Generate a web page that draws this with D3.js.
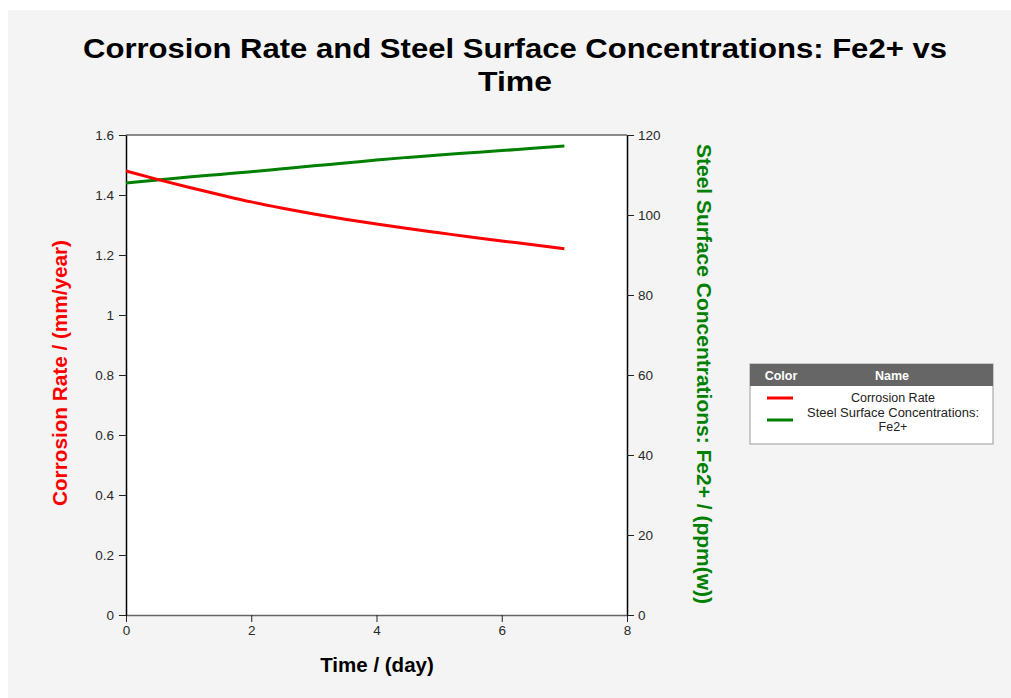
<!DOCTYPE html>
<html>
<head>
<meta charset="utf-8">
<script src="https://cdnjs.cloudflare.com/ajax/libs/d3/7.8.5/d3.min.js"></script>
<style>
  body { margin: 0; background: #fff; }
  text { font-family: "Liberation Sans", Arial, sans-serif; }
</style>
</head>
<body>
<div id="chart"></div>
<script>
var days = [0, 0.5, 1, 1.5, 2, 2.5, 3, 3.5, 4, 4.5, 5, 5.5, 6, 6.5, 7];
var corrosionRate = [1.48, 1.452, 1.426, 1.401, 1.377, 1.356, 1.337, 1.319, 1.303, 1.288, 1.274, 1.26, 1.247, 1.234, 1.221];
var fe2 = [108.0, 108.75, 109.5, 110.15, 110.8, 111.55, 112.3, 113.0, 113.75, 114.4, 115.0, 115.55, 116.1, 116.7, 117.25];
var xTicks = [0, 2, 4, 6, 8];
var leftTicks = [0, 0.2, 0.4, 0.6, 0.8, 1, 1.2, 1.4, 1.6];
var rightTicks = [0, 20, 40, 60, 80, 100, 120];

var width = 1011, height = 698;
var svg = d3.select("#chart").append("svg")
    .attr("width", width).attr("height", height);

// gray panel
svg.append("rect").attr("x", 8).attr("y", 10)
    .attr("width", width - 8).attr("height", height - 10)
    .attr("fill", "#f4f4f4");

var plot = { left: 126, right: 627, top: 135, bottom: 615 };

var x = d3.scaleLinear().domain([0, 8]).range([plot.left, plot.right]);
var yL = d3.scaleLinear().domain([0, 1.6]).range([plot.bottom, plot.top]);
var yR = d3.scaleLinear().domain([0, 120]).range([plot.bottom, plot.top]);

svg.append("rect")
    .attr("x", plot.left).attr("y", plot.top)
    .attr("width", plot.right - plot.left).attr("height", plot.bottom - plot.top)
    .attr("fill", "#fff");

// top border
svg.append("line").attr("x1", plot.left).attr("x2", plot.right)
    .attr("y1", plot.top).attr("y2", plot.top)
    .attr("stroke", "#666").attr("stroke-width", 1.5);

function styleAxis(g, lineColor) {
  g.selectAll("text").attr("font-size", "13.5px").attr("fill", "#2a2a2a")
    .style("font-family", "'Liberation Sans', Arial, sans-serif");
  g.selectAll(".tick line").attr("stroke", "#222");
  g.select(".domain").attr("stroke", lineColor).attr("stroke-width", 1.5);
}

var xAxis = svg.append("g").attr("transform", "translate(0," + plot.bottom + ")")
    .call(d3.axisBottom(x).tickValues(xTicks).tickSize(7).tickSizeOuter(0).tickPadding(3));
styleAxis(xAxis, "#666");

var leftAxis = svg.append("g").attr("transform", "translate(" + plot.left + ",0)")
    .call(d3.axisLeft(yL).tickValues(leftTicks).tickSize(7).tickSizeOuter(0).tickPadding(5)
      .tickFormat(function(d) { return d3.format("~g")(d); }));
styleAxis(leftAxis, "#000");

var rightAxis = svg.append("g").attr("transform", "translate(" + plot.right + ",0)")
    .call(d3.axisRight(yR).tickValues(rightTicks).tickSize(7).tickSizeOuter(0).tickPadding(4));
styleAxis(rightAxis, "#000");

// lines
var redLine = d3.line().x(function(d, i) { return x(days[i]); }).y(function(d) { return yL(d); })
    .curve(d3.curveMonotoneX);
var greenLine = d3.line().x(function(d, i) { return x(days[i]); }).y(function(d) { return yR(d); })
    .curve(d3.curveMonotoneX);

svg.append("path").datum(fe2).attr("d", greenLine)
    .attr("fill", "none").attr("stroke", "#008000").attr("stroke-width", 3);
svg.append("path").datum(corrosionRate).attr("d", redLine)
    .attr("fill", "none").attr("stroke", "#ff0000").attr("stroke-width", 3);

// title
svg.append("text").attr("x", 515).attr("y", 58).attr("text-anchor", "middle")
    .attr("font-size", "28px").attr("font-weight", "bold")
    .attr("textLength", 864).attr("lengthAdjust", "spacingAndGlyphs")
    .text("Corrosion Rate and Steel Surface Concentrations: Fe2+ vs");
svg.append("text").attr("x", 515).attr("y", 91).attr("text-anchor", "middle")
    .attr("font-size", "28px").attr("font-weight", "bold")
    .attr("textLength", 74).attr("lengthAdjust", "spacingAndGlyphs")
    .text("Time");

// axis titles
svg.append("text").attr("x", 377).attr("y", 672).attr("text-anchor", "middle")
    .attr("font-size", "20.5px").attr("font-weight", "bold").attr("fill", "#000")
    .text("Time / (day)");

svg.append("text").attr("transform", "translate(67,373) rotate(-90)")
    .attr("text-anchor", "middle").attr("font-size", "20px").attr("font-weight", "bold")
    .attr("fill", "#ff0000").attr("textLength", 266).attr("lengthAdjust", "spacingAndGlyphs")
    .text("Corrosion Rate / (mm/year)");

svg.append("text").attr("transform", "translate(697,374) rotate(90)")
    .attr("text-anchor", "middle").attr("font-size", "20px").attr("font-weight", "bold")
    .attr("fill", "#008000").attr("textLength", 460).attr("lengthAdjust", "spacingAndGlyphs")
    .text("Steel Surface Concentrations: Fe2+ / (ppm(w))");

// legend
var lg = svg.append("g").attr("transform", "translate(750,364)");
lg.append("rect").attr("width", 243).attr("height", 80)
    .attr("fill", "#fff").attr("stroke", "#999").attr("stroke-width", 1);
lg.append("rect").attr("width", 243).attr("height", 22).attr("fill", "#666");
lg.append("text").attr("x", 31).attr("y", 16).attr("text-anchor", "middle")
    .attr("font-size", "12.5px").attr("font-weight", "bold").attr("fill", "#fff").text("Color");
lg.append("text").attr("x", 142).attr("y", 16).attr("text-anchor", "middle")
    .attr("font-size", "12.5px").attr("font-weight", "bold").attr("fill", "#fff").text("Name");
lg.append("line").attr("x1", 17).attr("x2", 43).attr("y1", 34).attr("y2", 34)
    .attr("stroke", "#ff0000").attr("stroke-width", 3);
lg.append("line").attr("x1", 17).attr("x2", 43).attr("y1", 56).attr("y2", 56)
    .attr("stroke", "#008000").attr("stroke-width", 3);
lg.append("text").attr("x", 143).attr("y", 38).attr("text-anchor", "middle")
    .attr("font-size", "12.5px").attr("fill", "#222").text("Corrosion Rate");
lg.append("text").attr("x", 143).attr("y", 53).attr("text-anchor", "middle")
    .attr("font-size", "12.5px").attr("fill", "#222")
    .attr("textLength", 172).attr("lengthAdjust", "spacingAndGlyphs")
    .text("Steel Surface Concentrations:");
lg.append("text").attr("x", 143).attr("y", 67).attr("text-anchor", "middle")
    .attr("font-size", "12.5px").attr("fill", "#222").text("Fe2+");
</script>
</body>
</html>
